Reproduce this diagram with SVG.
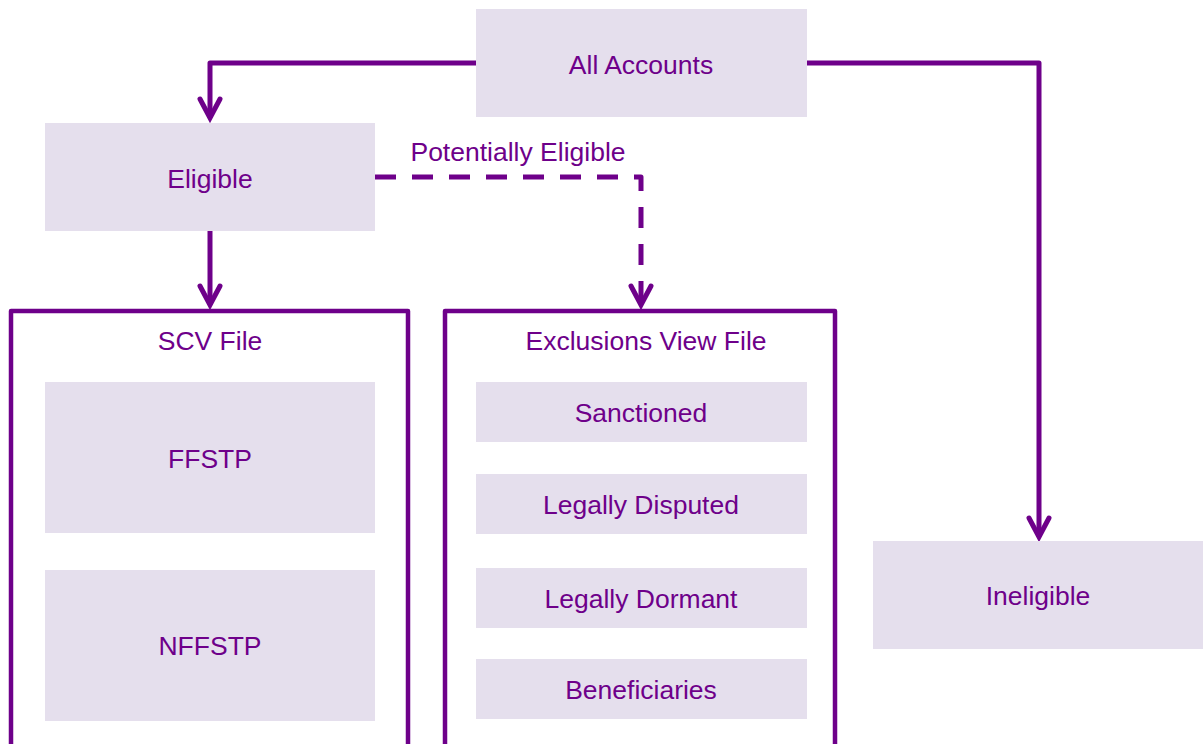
<svg xmlns="http://www.w3.org/2000/svg" width="1203" height="744" viewBox="0 0 1203 744">
<style>
.box{fill:#e5dfed}
.frame{fill:none;stroke:#6e008a;stroke-width:4.5;stroke-linejoin:round}
.t{font-family:"Liberation Sans",Arial,sans-serif;font-size:26.5px;fill:#6e008a;text-anchor:middle;dominant-baseline:central}
.c{fill:none;stroke:#6e008a;stroke-width:5;stroke-linejoin:round}
.ah{fill:none;stroke:#6e008a;stroke-width:5;stroke-linecap:round;stroke-linejoin:miter}
.d{stroke-dasharray:21 16}
</style>
<rect width="1203" height="744" fill="#fff"/>
<g id="connectors">
<path class="c" d="M476,63 H210 V118"/>
<polyline class="ah" points="200,99 210,118 220,99"/>
<path class="c" d="M807,63 H1039 V537"/>
<polyline class="ah" points="1029,518 1039,537 1049,518"/>
<path class="c" d="M210,231 V305"/>
<polyline class="ah" points="200,286 210,305 220,286"/>
<path class="c d" d="M375,177 H641 V305"/>
<polyline class="ah" points="631,286 641,305 651,286"/>
<text class="t" x="518" y="152">Potentially Eligible</text>
</g>
<g id="all-accounts"><rect class="box" x="476" y="9" width="331" height="108"/><text class="t" x="641" y="65">All Accounts</text></g>
<g id="eligible"><rect class="box" x="45" y="123" width="330" height="108"/><text class="t" x="210" y="179">Eligible</text></g>
<g id="ineligible"><rect class="box" x="873" y="541" width="330" height="108"/><text class="t" x="1038" y="596">Ineligible</text></g>
<g id="scv-file">
<rect class="frame" x="11" y="311" width="397" height="435.5"/>
<text class="t" x="210" y="341">SCV File</text>
</g>
<g id="ffstp"><rect class="box" x="45" y="382" width="330" height="151"/><text class="t" x="210" y="459">FFSTP</text></g>
<g id="nffstp"><rect class="box" x="45" y="570" width="330" height="151"/><text class="t" x="210" y="646">NFFSTP</text></g>
<g id="exclusions-file">
<rect class="frame" x="445" y="311" width="390" height="435.5"/>
<text class="t" x="646" y="341">Exclusions View File</text>
</g>
<g id="sanctioned"><rect class="box" x="476" y="382" width="331" height="60"/><text class="t" x="641" y="413">Sanctioned</text></g>
<g id="legally-disputed"><rect class="box" x="476" y="474" width="331" height="60"/><text class="t" x="641" y="505">Legally Disputed</text></g>
<g id="legally-dormant"><rect class="box" x="476" y="568" width="331" height="60"/><text class="t" x="641" y="599">Legally Dormant</text></g>
<g id="beneficiaries"><rect class="box" x="476" y="659" width="331" height="60"/><text class="t" x="641" y="690">Beneficiaries</text></g>
</svg>
